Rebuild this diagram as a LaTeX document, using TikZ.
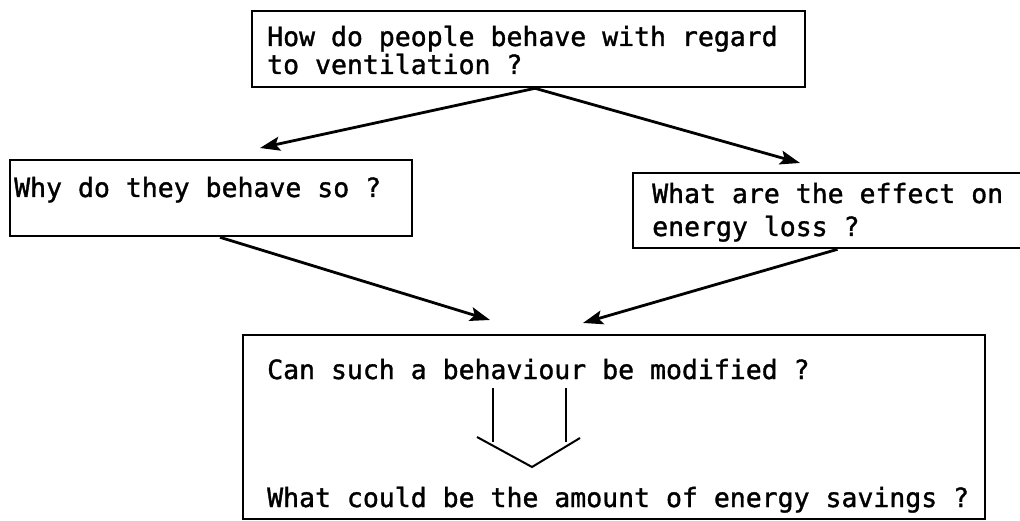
\documentclass[tikz,border=0pt]{standalone}
\usepackage{fontspec}
\newfontfamily\tw[FakeBold=1.3]{DejaVu Sans Mono}
\usetikzlibrary{arrows.meta}
\tikzset{
  box/.style={draw=black, line width=2.6pt, rectangle, inner sep=0pt},
  txt/.style={anchor=base west, inner sep=0pt, font=\tw\fontsize{26.5}{32}\selectfont},
  arr/.style={line width=2.8pt, -{Stealth[length=20pt,width=14pt,inset=4pt]}},
  thin/.style={line width=2pt, line join=miter}
}
\begin{document}
\begin{tikzpicture}[x=1pt,y=-1pt]
\useasboundingbox (0,0) rectangle (1020,521);
% boxes
\node[box, minimum width=553pt, minimum height=76pt] (top) at (528.5,49) {};
\node[box, minimum width=402pt, minimum height=76pt] (left) at (211,198) {};
\node[box, minimum width=391pt, minimum height=75pt] (right) at (828.5,210.5) {};
\node[box, minimum width=742pt, minimum height=184pt] (bottom) at (614,427) {};
% texts
\node[txt] (t1) at (267,46) {How do people behave with regard};
\node[txt] (t2) at (267,74) {to ventilation ?};
\node[txt] (t3) at (14,197) {Why do they behave so ?};
\node[txt] (t4) at (652,203) {What are the effect on};
\node[txt] (t5) at (652,236) {energy loss ?};
\node[txt] (t6) at (267,379) {Can such a behaviour be modified ?};
\node[txt] (t7) at (267,507) {What could be the amount of energy savings ?};
% free ends of the arrows
\coordinate (tipL) at (260,148);
\coordinate (tipR) at (800,163);
\coordinate (tipBL) at (490,320);
\coordinate (tipBR) at (583,323);
% connectors
\draw[arr] ([xshift=6.5pt]top.south) -- (tipL);
\draw[arr] ([xshift=6.5pt]top.south) -- (tipR);
\draw[arr] ([xshift=9pt]left.south) -- (tipBL);
\draw[arr] ([xshift=4.5pt]right.south -| 833,0) -- (tipBR);
% open arrow inside the bottom box
\draw[thin] (493,388) -- (493,442);
\draw[thin] (566,388) -- (566,442);
\draw[thin] (477,437) -- (532,467) -- (580,438);
\end{tikzpicture}
\end{document}
